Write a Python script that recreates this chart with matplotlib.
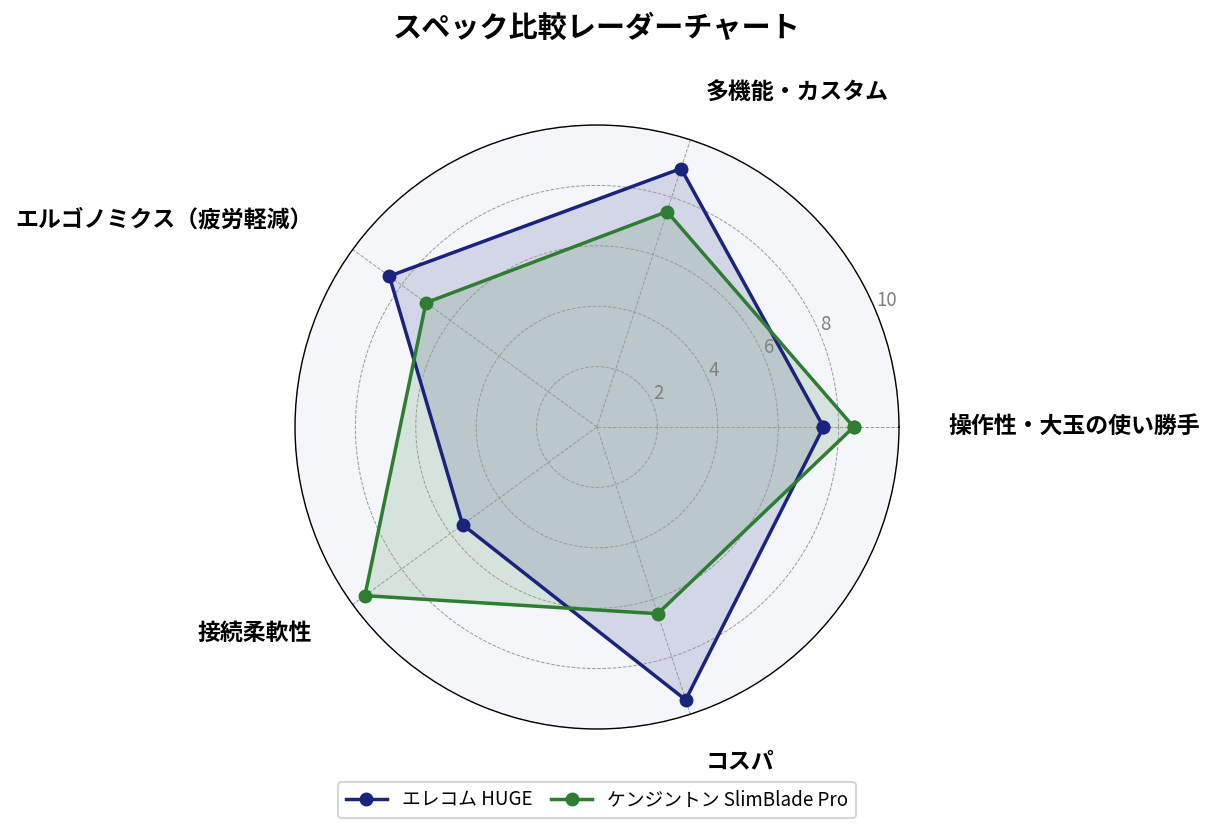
import numpy as np
import matplotlib
matplotlib.use("Agg")
import matplotlib.pyplot as plt

plt.rcParams['font.family'] = ['Noto Sans CJK JP', 'DejaVu Sans']

categories = ["操作性・大玉の使い勝手", "多機能・カスタム", "エルゴノミクス（疲労軽減）", "接続柔軟性", "コスパ"]
series_names = ["エレコム HUGE", "ケンジントン SlimBlade Pro"]
elecom = [7.5, 9.0, 8.5, 5.5, 9.5]
kensington = [8.5, 7.5, 7.0, 9.5, 6.5]
r_ticks = [2, 4, 6, 8, 10]
title = "スペック比較レーダーチャート"

colors = ["#1a237e", "#2e7d32"]

fig = plt.figure(figsize=(12.16, 8.34), dpi=100)
ax = fig.add_axes([0.2426, 0.1259, 0.4967, 0.7242], projection='polar')
ax.set_facecolor("#f4f6fa")

n = len(categories)
angles = np.linspace(0, 2 * np.pi, n, endpoint=False)
ang_closed = np.concatenate([angles, angles[:1]])

for vals, name, c in zip([elecom, kensington], series_names, colors):
    v = np.concatenate([vals, vals[:1]])
    ax.plot(ang_closed, v, color=c, linewidth=2.5, marker='o', markersize=9, label=name)
    ax.fill(ang_closed, v, color=c, alpha=0.15)

ax.set_ylim(0, 10)
ax.set_yticks(r_ticks)
ax.set_yticklabels([str(t) for t in r_ticks], color="#808080", fontsize=13.5)
ax.set_rlabel_position(22.5)
ax.set_xticks(angles)
ax.set_xticklabels([])
ax.grid(True, color="#999999", linestyle="--", linewidth=0.7)
ax.spines['polar'].set_color('black')
ax.spines['polar'].set_linewidth(1.0)

for a, lab in zip(angles, categories):
    deg = np.degrees(a)
    if deg < 90 or deg > 270:
        ha = 'left'
    else:
        ha = 'right'
    ax.text(a, 11.65, lab, ha=ha, va='center', fontsize=16.5, fontweight='bold',
            clip_on=False)

fig.text(0.491, 0.966, title, ha='center', va='center', fontsize=21, fontweight='bold')

leg = ax.legend(loc='center', bbox_to_anchor=(0.5, -0.118), ncol=2, fontsize=13.5,
                frameon=True, handlelength=2.2, columnspacing=1.0)
leg.get_frame().set_edgecolor("#cccccc")
leg.get_frame().set_linewidth(1.5)

fig.savefig("out.png", dpi=100)
